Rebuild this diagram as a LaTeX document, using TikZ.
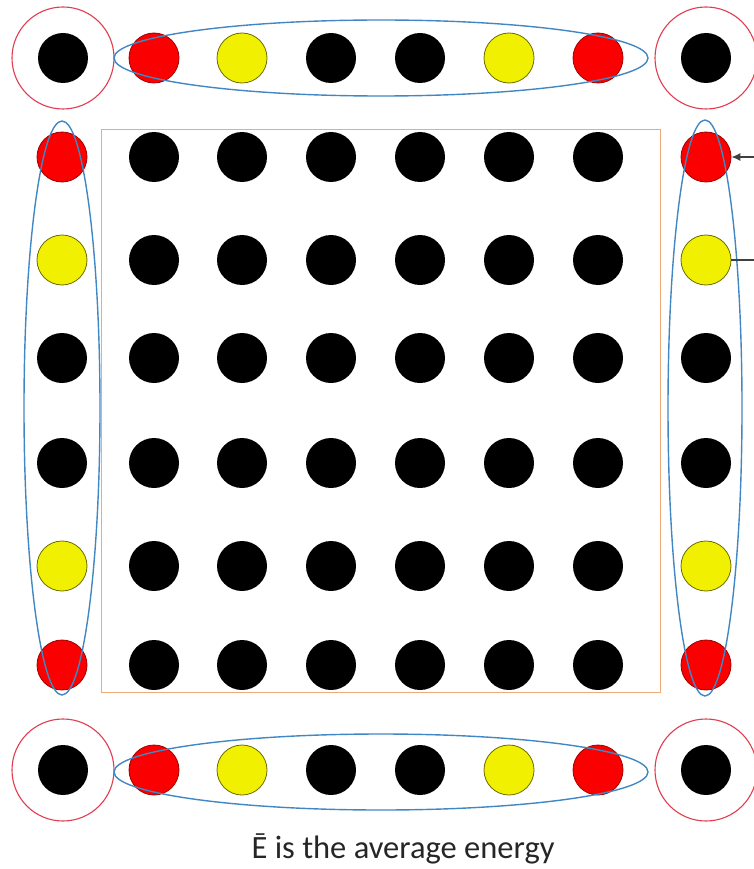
\documentclass[tikz,border=0pt]{standalone}
\usepackage{fontspec}
\setmainfont{Carlito}
\usetikzlibrary{arrows, arrows.meta, math}
\definecolor{myred}{RGB}{250, 0, 0}
\definecolor{myyellow}{RGB}{240, 240, 0}
\definecolor{myblue}{RGB}{65, 135, 195}
\definecolor{ringred}{RGB}{225, 60, 80}
\definecolor{myorange}{RGB}{240, 170, 120}

\begin{document}
\begin{tikzpicture}[x=1pt, y=-1pt,
  dot/.style={circle, minimum size=50pt, inner sep=0pt},
  blackdot/.style={dot, fill=black},
  reddot/.style={dot, fill=myred, draw=myred!65!black, line width=0.8pt},
  yellowdot/.style={dot, fill=myyellow, draw=myyellow!45!black, line width=0.8pt},
  ring/.style={draw=ringred, line width=1.1pt},
  band/.style={draw=myblue, line width=1.4pt}]
\tikzmath{
\R=51;
}
\useasboundingbox (0,0) rectangle (754,869);

%inner square
\draw[myorange, line width=1pt] (101,130) rectangle (660,692);
\foreach \x [count=\i] in {154,242,331,420,509,598}{
  \foreach \y [count=\j] in {157,260,358,463,566,665}{
    \node[blackdot] (in-\i-\j) at (\x,\y) {};
  }
}

%border rows and columns
\foreach \i/\x/\y/\s in {1/154/157/reddot, 2/242/260/yellowdot, 3/331/358/blackdot,
  4/420/463/blackdot, 5/509/566/yellowdot, 6/598/665/reddot}{
  \node[\s] (t\i) at (\x,58) {};
  \node[\s] (b\i) at (\x,770) {};
  \node[\s] (l\i) at (62,\y) {};
  \node[\s] (r\i) at (706,\y) {};
}

%corners
\node[blackdot] (c1) at (63,58) {};
\node[blackdot] (c2) at (706,58) {};
\node[blackdot] (c3) at (63,770) {};
\node[blackdot] (c4) at (706,770) {};
\foreach \c in {c1,c2,c3,c4}{
  \draw[ring] (\c.center) circle (\R);
}

%bands
\draw[band] (381,58) ellipse (267 and 38);
\draw[band] (381,772) ellipse (267 and 38);
\draw[band] (62,408) ellipse (38 and 287);
\draw[band] (705,408) ellipse (37 and 288);

%pointers
\coordinate (p1) at (756,157);
\coordinate (p2) at (756,260);
\draw[-{Latex[length=9pt, width=8pt]}, line width=1.1pt, black!75] (p1) -- (r1.east);
\draw[line width=1.1pt, black!75] (r2.east) -- (p2);

\node[black!85] (cap) at (403,849) {\fontsize{32.5}{38}\selectfont Ē is the average energy};
\end{tikzpicture}
\end{document}
